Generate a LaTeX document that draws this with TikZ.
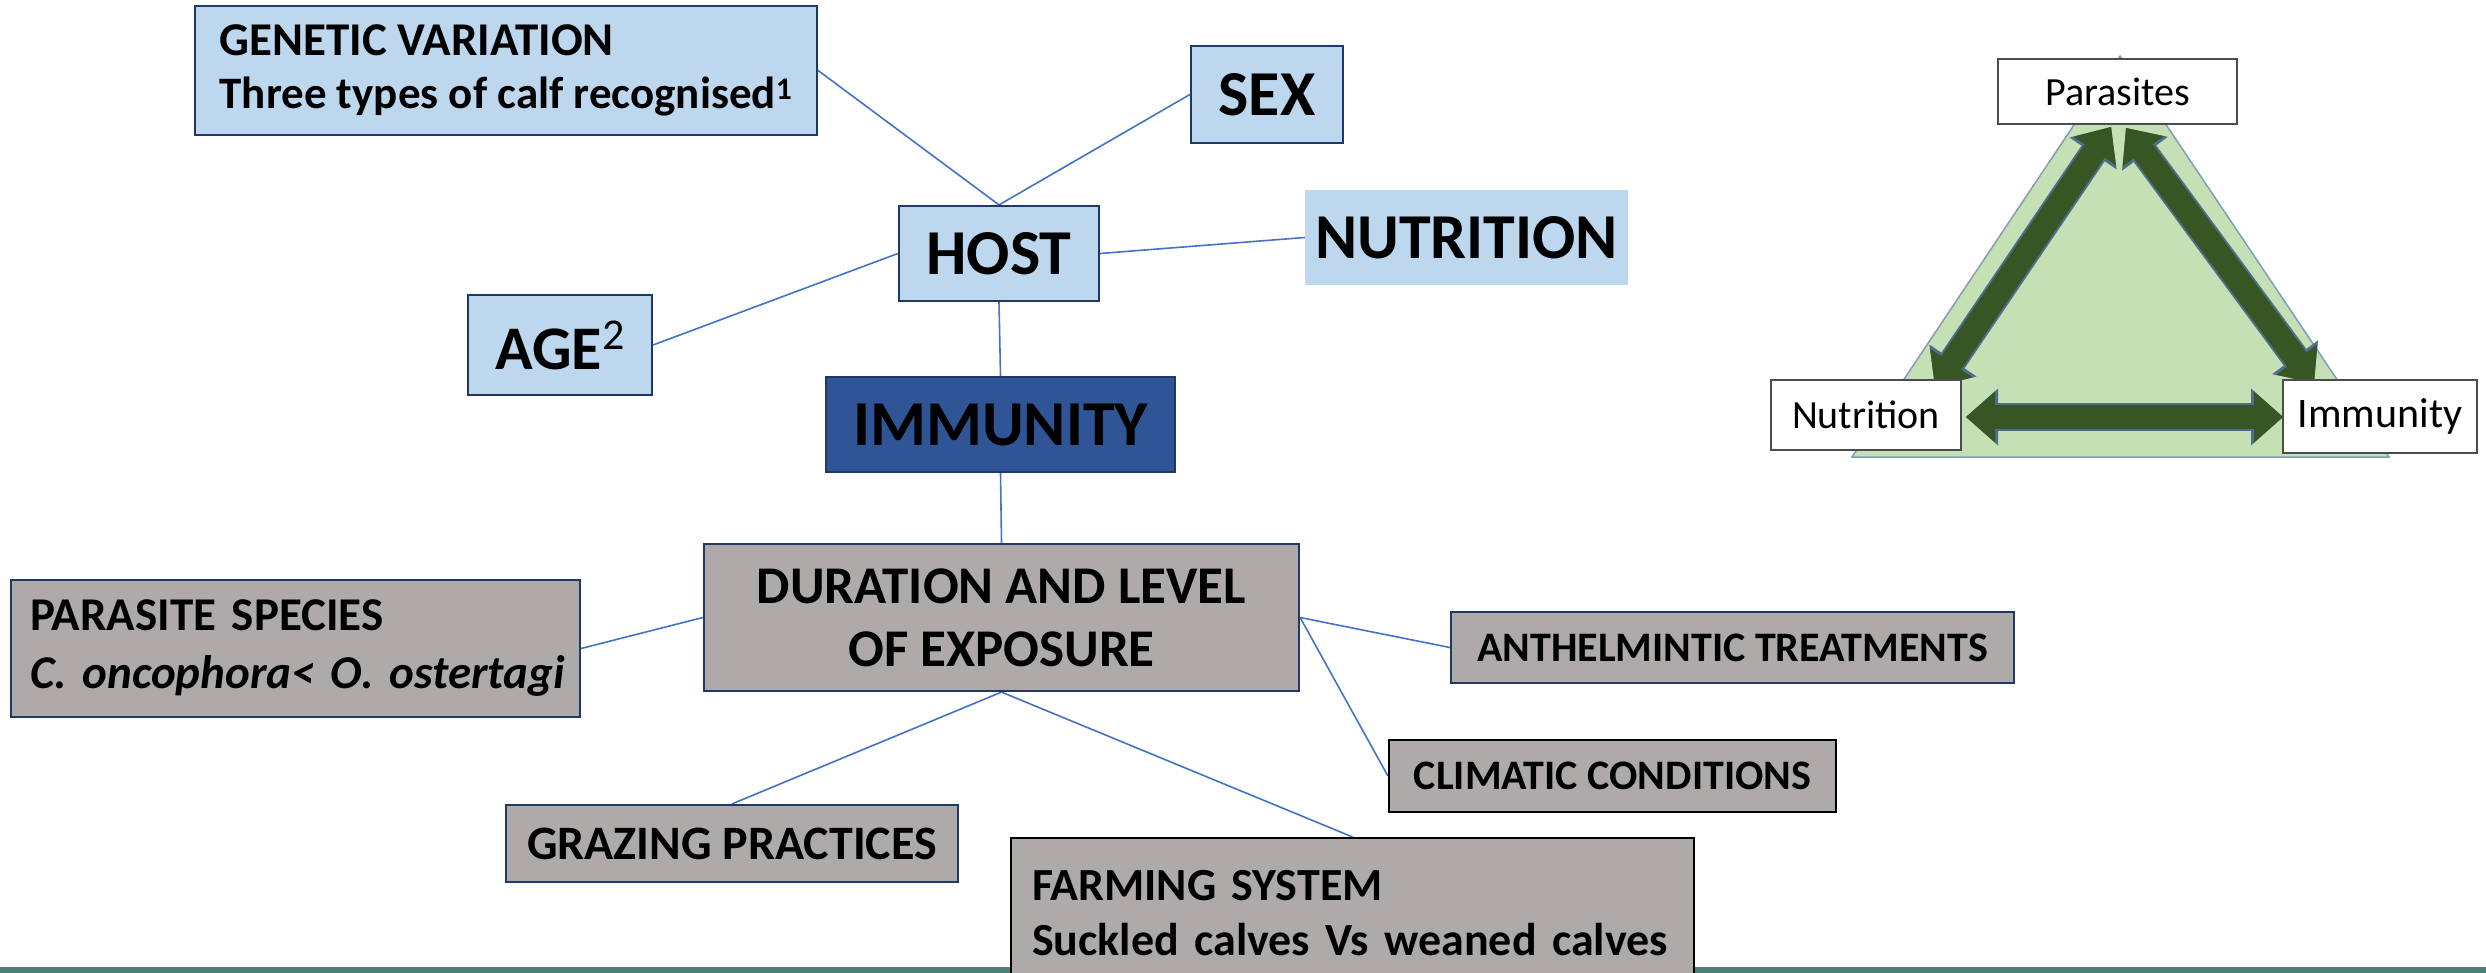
\documentclass[tikz,border=0pt]{standalone}
\usepackage{fontspec}
\setmainfont{Carlito}
\usetikzlibrary{arrows.meta}
\definecolor{boxblue}{HTML}{BDD7EE}
\definecolor{boxgray}{HTML}{AEAAAA}
\definecolor{navy}{HTML}{1F3864}
\definecolor{immblue}{HTML}{2F5597}
\definecolor{linkblue}{HTML}{4472C4}
\definecolor{trigreen}{HTML}{C5E0B4}
\definecolor{triedge}{HTML}{7DA0B8}
\definecolor{arrgreen}{HTML}{375623}
\definecolor{arredge}{HTML}{4E6E8E}
\definecolor{bandteal}{HTML}{4F7F76}
\pgfdeclarelayer{bg}
\pgfsetlayers{bg,main}
\begin{document}
\begin{tikzpicture}[x=1pt,y=-1pt,
  box/.style={draw=navy, line width=2.2pt, inner sep=0pt},
  bluebox/.style={box, fill=boxblue},
  graybox/.style={box, fill=boxgray},
  link/.style={draw=linkblue, line width=1.6pt},
  tribox/.style={draw=black!70, line width=1.5pt, fill=white, inner sep=0pt, font=\fontsize{40pt}{48pt}\selectfont},
  arrowouter/.style={draw=arredge, line width=28pt,
    arrows={Triangle[length=32pt,width=57pt,line width=0pt]-Triangle[length=32pt,width=57pt,line width=0pt]}},
  arrowinner/.style={draw=arrgreen, line width=24pt,
    arrows={Triangle[length=29pt,width=51pt,line width=0pt]-Triangle[length=29pt,width=51pt,line width=0pt]}}
]
\clip (0,0) rectangle (2486,973);

% ---- main concept boxes
\node[bluebox, minimum width=622pt, minimum height=129pt, align=left,
  font=\bfseries\fontsize{46pt}{53pt}\selectfont] (gen) at (506,70.5)
  {{\fontsize{47pt}{53pt}\selectfont GENETIC VARIATION}\\{\fontsize{45pt}{53pt}\selectfont Three types of calf recognised\textsuperscript{1}}};
\node[bluebox, minimum width=152pt, minimum height=97pt, font=\bfseries\fontsize{64pt}{70pt}\selectfont] (sex) at (1267,94.5) {SEX};
\node[bluebox, minimum width=200pt, minimum height=95pt, font=\bfseries\fontsize{64pt}{70pt}\selectfont] (host) at (999,253.5) {HOST};
\node[fill=boxblue, inner sep=0pt, minimum width=323pt, minimum height=95pt, text width=303pt, align=right,
  font=\bfseries\fontsize{64pt}{70pt}\selectfont] (nutr) at (1466.5,237.5) {NUTRITION};
\node[bluebox, minimum width=184pt, minimum height=100pt, font=\bfseries\fontsize{62pt}{70pt}\selectfont] (age) at (560,345)
  {AGE\raisebox{20pt}{\mdseries\fontsize{44pt}{44pt}\selectfont 2}};
\node[box, fill=immblue, minimum width=349pt, minimum height=95pt, font=\bfseries\fontsize{64pt}{70pt}\selectfont] (imm) at (1000.5,424.5) {IMMUNITY};
\node[graybox, minimum width=595pt, minimum height=147pt, align=center,
  font=\bfseries\fontsize{53pt}{63pt}\selectfont] (dur) at (1001.5,617.5) {DURATION AND LEVEL\\OF EXPOSURE};
\node[graybox, minimum width=569pt, minimum height=137pt, text width=531pt, align=left,
  font=\bfseries\fontsize{47pt}{58pt}\selectfont] (ps) at (295.5,648.5)
  {PARASITE SPECIES\\\mbox{\textit{C. oncophora< O. ostertagi}}};
\node[graybox, minimum width=563pt, minimum height=71pt, font=\bfseries\fontsize{42pt}{50pt}\selectfont] (anth) at (1732.5,647.5) {ANTHELMINTIC TREATMENTS};
\node[graybox, draw=black, minimum width=447pt, minimum height=72pt, font=\bfseries\fontsize{42pt}{50pt}\selectfont] (clim) at (1612.5,776) {CLIMATIC CONDITIONS};
\node[graybox, minimum width=452pt, minimum height=77pt, font=\bfseries\fontsize{48pt}{56pt}\selectfont] (graz) at (732,843.5) {GRAZING PRACTICES};
\node[graybox, draw=black, anchor=north west, minimum width=683pt, minimum height=150pt, text width=641pt, align=left,
  font=\bfseries\fontsize{46pt}{55pt}\selectfont] (farm) at (1010,837)
  {FARMING SYSTEM\\\mbox{Suckled calves Vs weaned calves}};

% ---- triangle diagram boxes
\node[tribox, minimum width=239pt, minimum height=65pt] (par) at (2117.5,91.5) {Parasites};
\node[tribox, minimum width=190pt, minimum height=70pt] (ntr) at (1866,415) {Nutrition};
\node[tribox, minimum width=194pt, minimum height=73pt, font=\fontsize{42pt}{48pt}\selectfont] (imt) at (2380,416.5) {Immunity};

\coordinate (apex) at (2120,56);
\coordinate (bl) at (1852,457);
\coordinate (br) at (2389,457);
\coordinate (a1p) at (2111,127);
\coordinate (a1n) at (1935,387);
\coordinate (a2p) at (2126,128);
\coordinate (a2i) at (2314,383);
\coordinate (a3n) at (1966,417);
\coordinate (a3i) at (2283,417);

\begin{pgfonlayer}{bg}
  \fill[white] (0,0) rectangle (2486,973);
  \fill[bandteal] (0,967) rectangle (2486,973);
  \filldraw[fill=trigreen, draw=triedge, line width=1.5pt] (apex) -- (br) -- (bl) -- cycle;
  \draw[arrowouter] (a1p) -- (a1n);
  \draw[arrowouter] (a2p) -- (a2i);
  \draw[arrowouter] (a3n) -- (a3i);
  \draw[arrowinner] (a1p) -- (a1n);
  \draw[arrowinner] (a2p) -- (a2i);
  \draw[arrowinner] (a3n) -- (a3i);
  % connectors
  \draw[link] (gen.east) -- (host.north);
  \draw[link] (sex.west) -- (host.north);
  \draw[link] (host.east) -- (nutr.west);
  \draw[link] (age.east) -- (host.west);
  \draw[link] (host.south) -- (imm.north);
  \draw[link] (imm.south) -- (dur.north);
  \draw[link] (ps.east) -- (dur.west);
  \draw[link] (dur.east) -- (anth.west);
  \draw[link] (dur.east) -- (clim.west);
  \draw[link] (dur.south) -- (graz.north);
  \draw[link] (dur.south) -- (farm.north);
\end{pgfonlayer}
\end{tikzpicture}
\end{document}
